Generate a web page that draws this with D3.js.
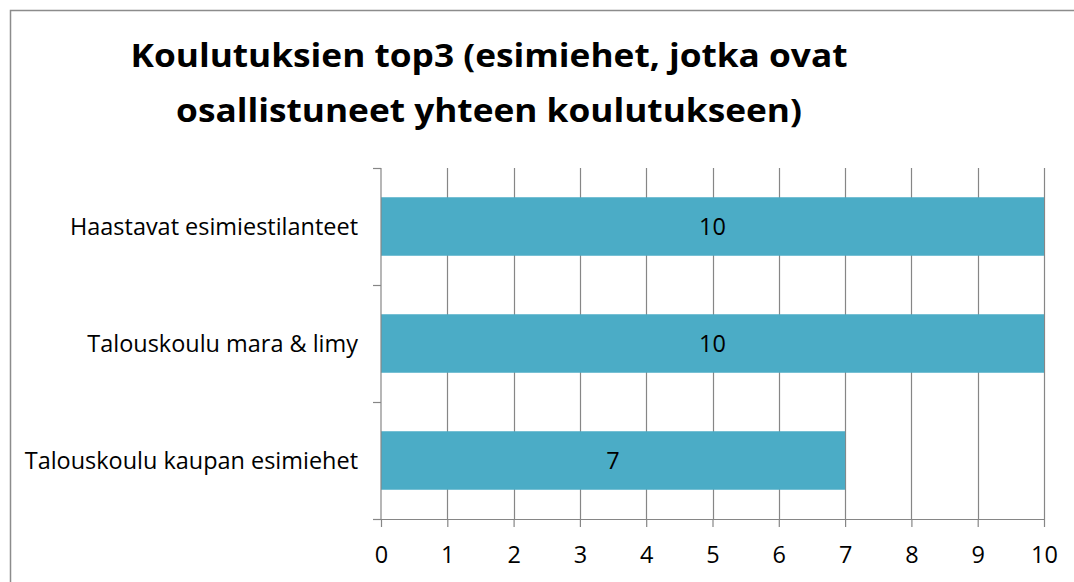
<!DOCTYPE html>
<html>
<head>
<meta charset="utf-8">
<script src="https://cdn.jsdelivr.net/npm/d3@7"></script>
<style>
  body { margin: 0; background: #fff; }
  svg { display: block; font-family: "Open Sans", Lato, sans-serif; }
</style>
</head>
<body>
<div id="chart"></div>
<script>
// Data
const categories = ["Haastavat esimiestilanteet", "Talouskoulu mara & limy", "Talouskoulu kaupan esimiehet"];
const values = [10, 10, 7];
const xTicks = [0, 1, 2, 3, 4, 5, 6, 7, 8, 9, 10];
const titleLines = ["Koulutuksien top3 (esimiehet, jotka ovat", "osallistuneet yhteen koulutukseen)"];

const W = 1074, H = 582;
const margin = {top: 168, right: 30, bottom: 63, left: 381};
const colors = {bar: "#4bacc6", grid: "#868686", border: "#8c8c8c", text: "#000"};
const titleSize = 31.5, labelSize = 23;

const svg = d3.select("#chart").append("svg")
  .attr("width", W)
  .attr("height", H);

// outer chart border (only top and left visible in the crop)
svg.append("path")
  .attr("d", `M10.5,${H} V10.5 H${W}`)
  .attr("fill", "none")
  .attr("stroke", colors.border)
  .attr("stroke-width", 1.5);

const x = d3.scaleLinear()
  .domain([0, 10])
  .range([margin.left, 1044]);

const y = d3.scaleBand()
  .domain(categories)
  .range([margin.top, H - margin.bottom])
  .paddingInner(0.5)
  .paddingOuter(0.25);

// stretch a group of texts by one factor, so that the sample one gets targetWidth
// (the fallback font is narrower than the original Calibri)
function fitGroup(sel, sampleNode, targetWidth) {
  const k = targetWidth / sampleNode.getComputedTextLength();
  sel.each(function () {
    const w = this.getComputedTextLength();
    d3.select(this)
      .attr("textLength", w * k)
      .attr("lengthAdjust", "spacingAndGlyphs");
  });
}

// Title
const title = svg.append("g")
  .selectAll("text")
  .data(titleLines)
  .join("text")
    .attr("x", 489)
    .attr("y", (d, i) => 67 + i * 55)
    .attr("text-anchor", "middle")
    .attr("font-size", titleSize)
    .attr("font-weight", "bold")
    .attr("fill", colors.text)
    .text(d => d);

// Gridlines
svg.append("g")
  .selectAll("line")
  .data(xTicks.filter(d => d > 0))
  .join("line")
    .attr("x1", d => Math.round(x(d)) + 0.5)
    .attr("x2", d => Math.round(x(d)) + 0.5)
    .attr("y1", y.range()[0])
    .attr("y2", y.range()[1])
    .attr("stroke", colors.grid)
    .attr("stroke-width", 1.2);

// Bars
svg.append("g")
  .selectAll("rect")
  .data(values)
  .join("rect")
    .attr("x", x(0))
    .attr("y", (d, i) => y(categories[i]))
    .attr("width", d => x(d) - x(0))
    .attr("height", y.bandwidth())
    .attr("fill", colors.bar);

// Bar labels
const barLabels = svg.append("g")
  .selectAll("text")
  .data(values)
  .join("text")
    .attr("x", d => (x(0) + x(d)) / 2)
    .attr("y", (d, i) => y(categories[i]) + y.bandwidth() / 2)
    .attr("dy", "0.36em")
    .attr("text-anchor", "middle")
    .attr("font-size", labelSize)
    .attr("fill", colors.text)
    .text(d => d);

// X axis
const xAxis = svg.append("g")
  .attr("transform", `translate(0,${y.range()[1]})`)
  .call(d3.axisBottom(x).tickValues(xTicks).tickSizeInner(8).tickSizeOuter(0));
xAxis.attr("font-family", null).attr("font-size", null);
xAxis.select(".domain").attr("stroke", colors.grid).attr("stroke-width", 1.2);
xAxis.selectAll(".tick line").attr("stroke", colors.grid).attr("stroke-width", 1.2);
const tickLabels = xAxis.selectAll(".tick text")
  .attr("y", 44)
  .attr("dy", 0)
  .attr("font-size", labelSize)
  .attr("fill", colors.text);

// Y axis: line with ticks at category boundaries
const step = y.step();
const yBounds = d3.range(categories.length + 1).map(i => y.range()[0] + i * step);
const yAxis = svg.append("g");
yAxis.append("line")
  .attr("x1", x(0)).attr("x2", x(0))
  .attr("y1", y.range()[0]).attr("y2", y.range()[1])
  .attr("stroke", colors.grid)
  .attr("stroke-width", 1.2);
yAxis.selectAll("line.tick")
  .data(yBounds)
  .join("line")
    .attr("class", "tick")
    .attr("x1", x(0) - 8).attr("x2", x(0))
    .attr("y1", d => Math.round(d) + 0.5)
    .attr("y2", d => Math.round(d) + 0.5)
    .attr("stroke", colors.grid)
    .attr("stroke-width", 1.2);
const catLabels = yAxis.selectAll("text")
  .data(categories)
  .join("text")
    .attr("x", x(0) - 23)
    .attr("y", d => y(d) + y.bandwidth() / 2)
    .attr("dy", "0.36em")
    .attr("text-anchor", "end")
    .attr("font-size", labelSize)
    .attr("fill", colors.text)
    .text(d => d);

// widths: title line 1 and the first category label
const titleNode = title.nodes()[0];
const catNode = catLabels.nodes()[0];
const catK = 288 / catNode.getComputedTextLength();
fitGroup(title, titleNode, 717);
[catLabels, barLabels, tickLabels].forEach(sel => sel.each(function () {
  d3.select(this)
    .attr("textLength", this.getComputedTextLength() * catK)
    .attr("lengthAdjust", "spacingAndGlyphs");
}));
</script>
</body>
</html>
